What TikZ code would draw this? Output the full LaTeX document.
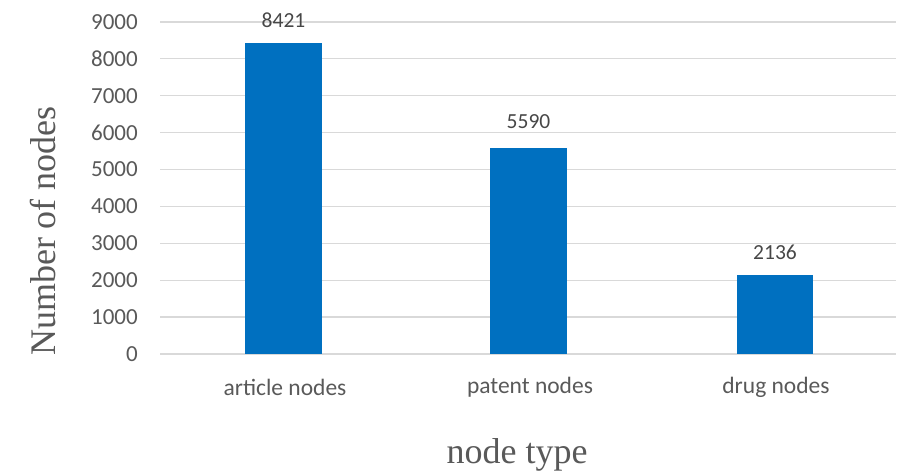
\documentclass[tikz,border=0pt]{standalone}
\usepackage{fontspec}
\setmainfont{Liberation Serif}
\newfontfamily\calib{Carlito}
\definecolor{barblue}{HTML}{0070C0}
\definecolor{gridgray}{HTML}{D9D9D9}
\definecolor{txtgray}{HTML}{595959}
\begin{document}
\begin{tikzpicture}[x=1pt,y=-1pt,
  tick/.style={anchor=east,text=txtgray,inner sep=0pt,font=\calib\fontsize{23}{27}\selectfont},
  vlabel/.style={text=txtgray!80!black,inner sep=0pt,font=\calib\fontsize{21.5}{25}\selectfont},
  cat/.style={text=txtgray,inner sep=0pt,font=\calib\fontsize{23.5}{27}\selectfont},
  axtitle/.style={text=txtgray,inner sep=0pt,font=\fontsize{36}{40}\selectfont},
  bar/.style={fill=barblue}]
\useasboundingbox (0,0) rectangle (897,473);
% gridlines and tick labels
\foreach \v [count=\i from 0] in {0,1000,...,9000} {
  \draw[gridgray,line width=1.3pt] (160,{354-\v*0.036889}) -- (896,{354-\v*0.036889});
  \node[tick] (t\i) at (138,{354-\v*0.036889}) {\v};
}
% bars
\fill[bar] (245,354) rectangle (322,{354-8421*0.036889});
\fill[bar] (490,354) rectangle (567,{354-5590*0.036889});
\fill[bar] (737,354) rectangle (813,{354-2136*0.036889});
% value labels
\node[vlabel] (v1) at (283.5,20) {8421};
\node[vlabel] (v2) at (528.5,122) {5590};
\node[vlabel] (v3) at (775,252) {2136};
% category labels
\node[cat] (c1) at (285,387) {article nodes};
\node[cat] (c2) at (530,387) {patent nodes};
\node[cat] (c3) at (776,387) {drug nodes};
% axis titles
\node[axtitle] (xt) at (517,455) {node type};
\node[axtitle,rotate=90] (yt) at (43,231) {Number of nodes};
\end{tikzpicture}
\end{document}
